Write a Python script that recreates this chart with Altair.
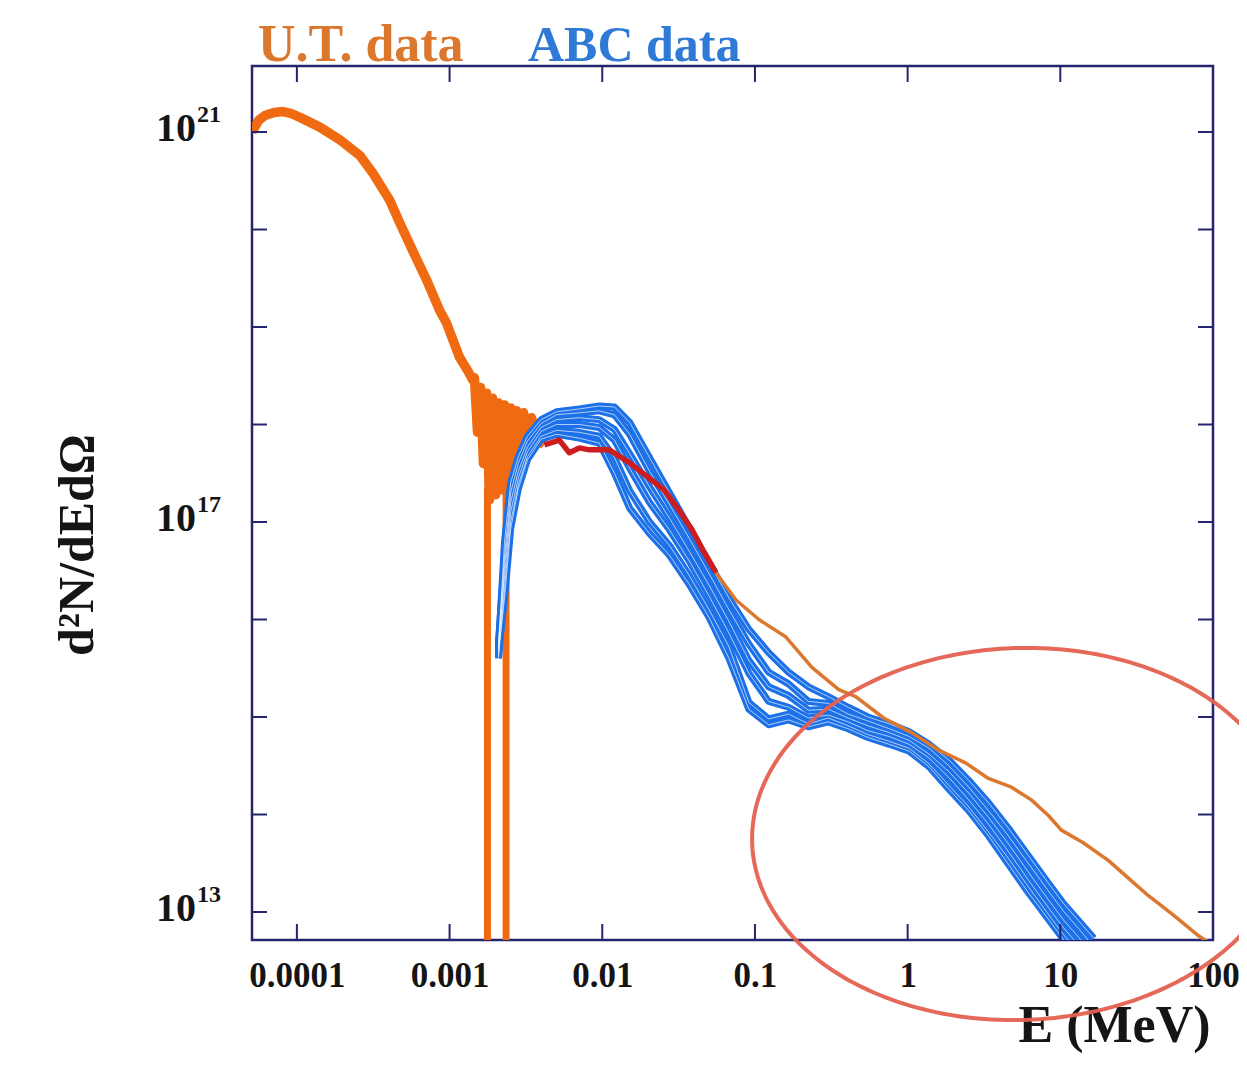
import altair as alt
import pandas as pd
import numpy as np

# ---------------- data (log10 values) ----------------
# U.T. data, low-energy part (thick orange), incl. the noisy region
ut_head_logE = [-4.294, -4.25, -4.209, -4.15, -4.092, -4.04, -3.980, -3.850, -3.719, -3.588,
                -3.503, -3.392, -3.327, -3.229, -3.150, -3.065, -3.020, -2.935, -2.880, -2.850,
                -2.837, -2.817, -2.797, -2.778, -2.758, -2.739, -2.719, -2.699, -2.680, -2.660,
                -2.641, -2.621, -2.601, -2.582, -2.562, -2.542, -2.516, -2.490, -2.464, -2.412,
                -2.379]
ut_head_logY = [21.00, 21.12, 21.17, 21.20, 21.21, 21.19, 21.15, 21.05, 20.92, 20.76,
                20.58, 20.30, 20.07, 19.74, 19.48, 19.17, 19.04, 18.69, 18.55, 18.46,
                18.48, 17.92, 18.38, 17.60, 18.32, 17.23, 18.27, 17.28, 18.22, 17.33,
                18.20, 17.43, 18.17, 17.53, 18.14, 17.69, 18.12, 17.92, 18.07, 17.84,
                17.79]
# vertical drop-outs of the U.T. data
spike_logE = [-2.752, -2.630]
spike_logY = [17.35, 17.50]

# U.T. data, middle part (red)
red_logE = [-2.379, -2.281, -2.216, -2.150, -2.085, -1.954, -1.824, -1.693, -1.595, -1.497,
            -1.412, -1.333, -1.255]
red_logY = [17.79, 17.84, 17.71, 17.76, 17.74, 17.74, 17.61, 17.45, 17.33, 17.12,
            16.92, 16.69, 16.48]

# U.T. data, high-energy tail (thin orange)
tail_logE = [-1.255, -1.124, -0.974, -0.797, -0.627, -0.451, -0.340, -0.157, 0.026, 0.203,
             0.379, 0.529, 0.680, 0.810, 0.922, 1.007, 1.150, 1.314, 1.444, 1.575,
             1.739, 1.902, 2.0]
tail_logY = [16.48, 16.20, 16.00, 15.82, 15.51, 15.28, 15.21, 14.99, 14.84, 14.66,
             14.53, 14.37, 14.28, 14.15, 13.99, 13.84, 13.71, 13.53, 13.35, 13.17,
             12.97, 12.76, 12.66]

# ABC data (blue), six runs on a common energy grid
abc_logE = [-2.68, -2.64, -2.60, -2.55, -2.49, -2.40, -2.30, -2.15, -2.02, -1.92,
            -1.82, -1.69, -1.56, -1.43, -1.30, -1.17, -1.04, -0.91, -0.78, -0.65,
            -0.52, -0.39, -0.26, -0.12, 0.01, 0.14, 0.27, 0.40, 0.53, 0.66,
            0.79, 0.92, 1.02, 1.12, 1.22]
abc_run1 = [15.70, 16.80, 17.40, 17.67, 17.88, 18.05, 18.13, 18.16, 18.19, 18.18,
            18.02, 17.66, 17.30, 16.94, 16.58, 16.22, 15.90, 15.66, 15.46, 15.31,
            15.21, 15.10, 15.00, 14.93, 14.85, 14.72, 14.56, 14.35, 14.12, 13.86,
            13.58, 13.30, 13.09, 12.91, 12.73]
abc_run2 = [15.76, 16.65, 17.30, 17.60, 17.83, 18.01, 18.10, 18.12, 18.14, 18.10,
            17.90, 17.52, 17.18, 16.83, 16.47, 16.10, 15.75, 15.46, 15.34, 15.16,
            15.14, 15.03, 14.96, 14.88, 14.80, 14.68, 14.50, 14.28, 14.04, 13.78,
            13.50, 13.22, 13.01, 12.83, 12.64]
abc_run3 = [15.62, 16.55, 17.20, 17.52, 17.77, 17.97, 18.05, 18.07, 18.05, 17.95,
            17.70, 17.36, 17.04, 16.70, 16.35, 15.98, 15.58, 15.31, 15.22, 15.07,
            15.08, 14.99, 14.91, 14.84, 14.76, 14.62, 14.44, 14.22, 13.97, 13.70,
            13.41, 13.13, 12.92, 12.74, 12.55]
abc_run4 = [15.72, 16.45, 17.10, 17.45, 17.72, 17.93, 18.00, 18.00, 17.97, 17.84,
            17.55, 17.20, 16.92, 16.60, 16.24, 15.86, 15.45, 15.16, 15.10, 14.99,
            15.02, 14.95, 14.86, 14.80, 14.72, 14.58, 14.38, 14.15, 13.90, 13.62,
            13.33, 13.05, 12.84, 12.66, 12.47]
abc_run5 = [15.60, 16.32, 17.00, 17.38, 17.67, 17.88, 17.94, 17.92, 17.88, 17.66,
            17.32, 17.00, 16.76, 16.45, 16.10, 15.72, 15.15, 14.98, 15.03, 14.93,
            14.99, 14.91, 14.82, 14.75, 14.68, 14.52, 14.30, 14.08, 13.82, 13.55,
            13.26, 12.98, 12.77, 12.59, 12.40]
abc_run6 = [15.66, 16.22, 16.93, 17.34, 17.64, 17.85, 17.90, 17.86, 17.81, 17.50,
            17.14, 16.88, 16.66, 16.36, 16.02, 15.60, 15.08, 14.92, 14.97, 14.90,
            14.95, 14.88, 14.79, 14.72, 14.65, 14.49, 14.26, 14.04, 13.78, 13.49,
            13.20, 12.93, 12.72, 12.55, 12.36]

x_tick_values = [1e-4, 1e-3, 1e-2, 1e-1, 1, 10, 100]
y_tick_values = [1e13, 1e14, 1e15, 1e16, 1e17, 1e18, 1e19, 1e20, 1e21]
y_label_values = [1e13, 1e17, 1e21]
y_label_exps = ["13", "17", "21"]

# ---------------- layout / style ----------------
W, H = 961, 874
X_LOG_MIN, X_LOG_MAX = -4.294, 2.0
Y_LOG_MIN, Y_LOG_MAX = 12.713, 21.677
NAVY = "#25246e"
OR1 = "#f06a12"
OR2 = "#dc782e"
RED = "#cc1e1e"
BLUE = "#1c70e8"
ELL = "#e4604f"
FONT = "Liberation Serif"

xs = alt.Scale(type="log", domain=[10 ** X_LOG_MIN, 10 ** X_LOG_MAX], nice=False)
ys = alt.Scale(type="log", domain=[10 ** Y_LOG_MIN, 10 ** Y_LOG_MAX], nice=False)

xaxis = alt.Axis(values=x_tick_values, format="~g", grid=False, domain=False, ticks=False,
                 tickSize=0, labelFont=FONT, labelFontSize=35, labelFontWeight="bold",
                 labelColor="#151515", labelPadding=46, labelBaseline="alphabetic",
                 labelFlush=False, labelOverlap=False,
                 title="E (MeV)", titleFont=FONT, titleFontSize=52, titleFontWeight="bold",
                 titleColor="#151515", titleAnchor="end", titleAlign="right",
                 titleBaseline="alphabetic", titleX=958, titleY=101)


def X(field="E"):
    return alt.X(f"{field}:Q", scale=xs, axis=xaxis)


def Y(field="Y"):
    return alt.Y(f"{field}:Q", scale=ys, axis=None)


def p10(v):
    return [10 ** x for x in v]


head = pd.DataFrame({"E": p10(ut_head_logE), "Y": p10(ut_head_logY), "i": range(len(ut_head_logE))})
spikes = pd.DataFrame({"E": p10(spike_logE), "Y": p10(spike_logY), "Y2": [10 ** Y_LOG_MIN] * 2})
red = pd.DataFrame({"E": p10(red_logE), "Y": p10(red_logY), "i": range(len(red_logE))})
tail = pd.DataFrame({"E": p10(tail_logE), "Y": p10(tail_logY), "i": range(len(tail_logE))})

runs = [abc_run1, abc_run2, abc_run3, abc_run4, abc_run5, abc_run6]
abc = pd.concat([
    pd.DataFrame({"E": p10(abc_logE), "Y": p10(r), "run": f"run{k + 1}", "i": range(len(abc_logE))})
    for k, r in enumerate(runs)
], ignore_index=True)

# red highlight ellipse (annotation), defined in plot pixels then mapped to data
ell_cx, ell_cy, ell_rx, ell_ry, ell_rot = 768, 768, 268, 186, np.deg2rad(-2)
t = np.linspace(0, 2 * np.pi, 241)
px = ell_cx + ell_rx * np.cos(t) * np.cos(ell_rot) - ell_ry * np.sin(t) * np.sin(ell_rot)
py = ell_cy + ell_rx * np.cos(t) * np.sin(ell_rot) + ell_ry * np.sin(t) * np.cos(ell_rot)
ell = pd.DataFrame({
    "E": 10 ** (X_LOG_MIN + px / W * (X_LOG_MAX - X_LOG_MIN)),
    "Y": 10 ** (Y_LOG_MAX - py / H * (Y_LOG_MAX - Y_LOG_MIN)),
    "i": range(len(t)),
})

xt = pd.DataFrame({"E": x_tick_values[:-1]})
yt = pd.DataFrame({"Y": y_tick_values})
yl = pd.DataFrame({"Y": y_label_values, "exp": y_label_exps})
legend_df = pd.DataFrame({"label": ["U.T. data", "ABC data"]})

layers = []
layers.append(alt.Chart(head).mark_line(color=OR1, strokeWidth=9.5, clip=True, strokeJoin="round")
              .encode(x=X(), y=Y(), order="i:Q"))
layers.append(alt.Chart(spikes).mark_rule(color=OR1, strokeWidth=7, clip=True)
              .encode(x=X(), y=Y(), y2="Y2:Q"))
layers.append(alt.Chart(abc).mark_line(color=BLUE, strokeWidth=7, clip=True, strokeJoin="round")
              .encode(x=X(), y=Y(), detail="run:N", order="i:Q"))
layers.append(alt.Chart(abc).mark_line(color="white", strokeWidth=1.0, opacity=0.65, clip=True)
              .encode(x=X(), y=Y(), detail="run:N", order="i:Q"))
layers.append(alt.Chart(red).mark_line(color=RED, strokeWidth=5.5, clip=True, strokeJoin="round")
              .encode(x=X(), y=Y(), order="i:Q"))
layers.append(alt.Chart(tail).mark_line(color=OR2, strokeWidth=3.5, clip=True, strokeJoin="round")
              .encode(x=X(), y=Y(), order="i:Q"))

# inward ticks on all four sides
layers.append(alt.Chart(xt).mark_rule(color=NAVY, strokeWidth=2)
              .encode(x=X(), y=alt.value(H), y2=alt.value(H - 16)))
layers.append(alt.Chart(xt).mark_rule(color=NAVY, strokeWidth=2)
              .encode(x=X(), y=alt.value(0), y2=alt.value(16)))
layers.append(alt.Chart(yt).mark_rule(color=NAVY, strokeWidth=2)
              .encode(y=Y(), x=alt.value(0), x2=alt.value(15)))
layers.append(alt.Chart(yt).mark_rule(color=NAVY, strokeWidth=2)
              .encode(y=Y(), x=alt.value(W - 15), x2=alt.value(W)))

# y tick labels 10^n
layers.append(alt.Chart(yl).mark_text(align="right", baseline="middle", dy=-3, font=FONT,
                                      fontSize=40, fontWeight="bold", color="#151515")
              .encode(y=Y(), x=alt.value(-56), text=alt.value("10")))
layers.append(alt.Chart(yl).mark_text(align="left", baseline="middle", dy=-17, font=FONT,
                                      fontSize=24, fontWeight="bold", color="#151515")
              .encode(y=Y(), x=alt.value(-55), text="exp:N"))

# y axis title
layers.append(alt.Chart(yl).transform_filter("datum.exp == '17'")
              .mark_text(angle=270, align="center", baseline="middle", font=FONT,
                         fontSize=50, fontWeight="bold", color="#151515")
              .encode(x=alt.value(-174), y=alt.value(479), text=alt.value("d²N/dEdΩ")))

# series labels above the frame
layers.append(alt.Chart(legend_df).transform_filter("datum.label == 'U.T. data'")
              .mark_text(align="left", baseline="alphabetic", font=FONT, fontSize=52,
                         fontWeight="bold", color=OR2)
              .encode(x=alt.value(6), y=alt.value(-5), text="label:N"))
layers.append(alt.Chart(legend_df).transform_filter("datum.label == 'ABC data'")
              .mark_text(align="left", baseline="alphabetic", font=FONT, fontSize=50,
                         fontWeight="bold", color="#2f7ad6")
              .encode(x=alt.value(276), y=alt.value(-5), text="label:N"))

# highlight ellipse
layers.append(alt.Chart(ell).mark_line(color=ELL, strokeWidth=4, clip=False, opacity=0.95)
              .encode(x=X(), y=Y(), order="i:Q"))

chart = alt.layer(*layers).properties(
    width=W, height=H,
    padding={"left": 244, "top": 58, "right": 26, "bottom": 116},
    autosize=alt.AutoSizeParams(type="none"),
    background="white",
).configure_view(stroke=NAVY, strokeWidth=2.5)

chart.save("out.html", embed_options={"renderer": "svg", "actions": False})
